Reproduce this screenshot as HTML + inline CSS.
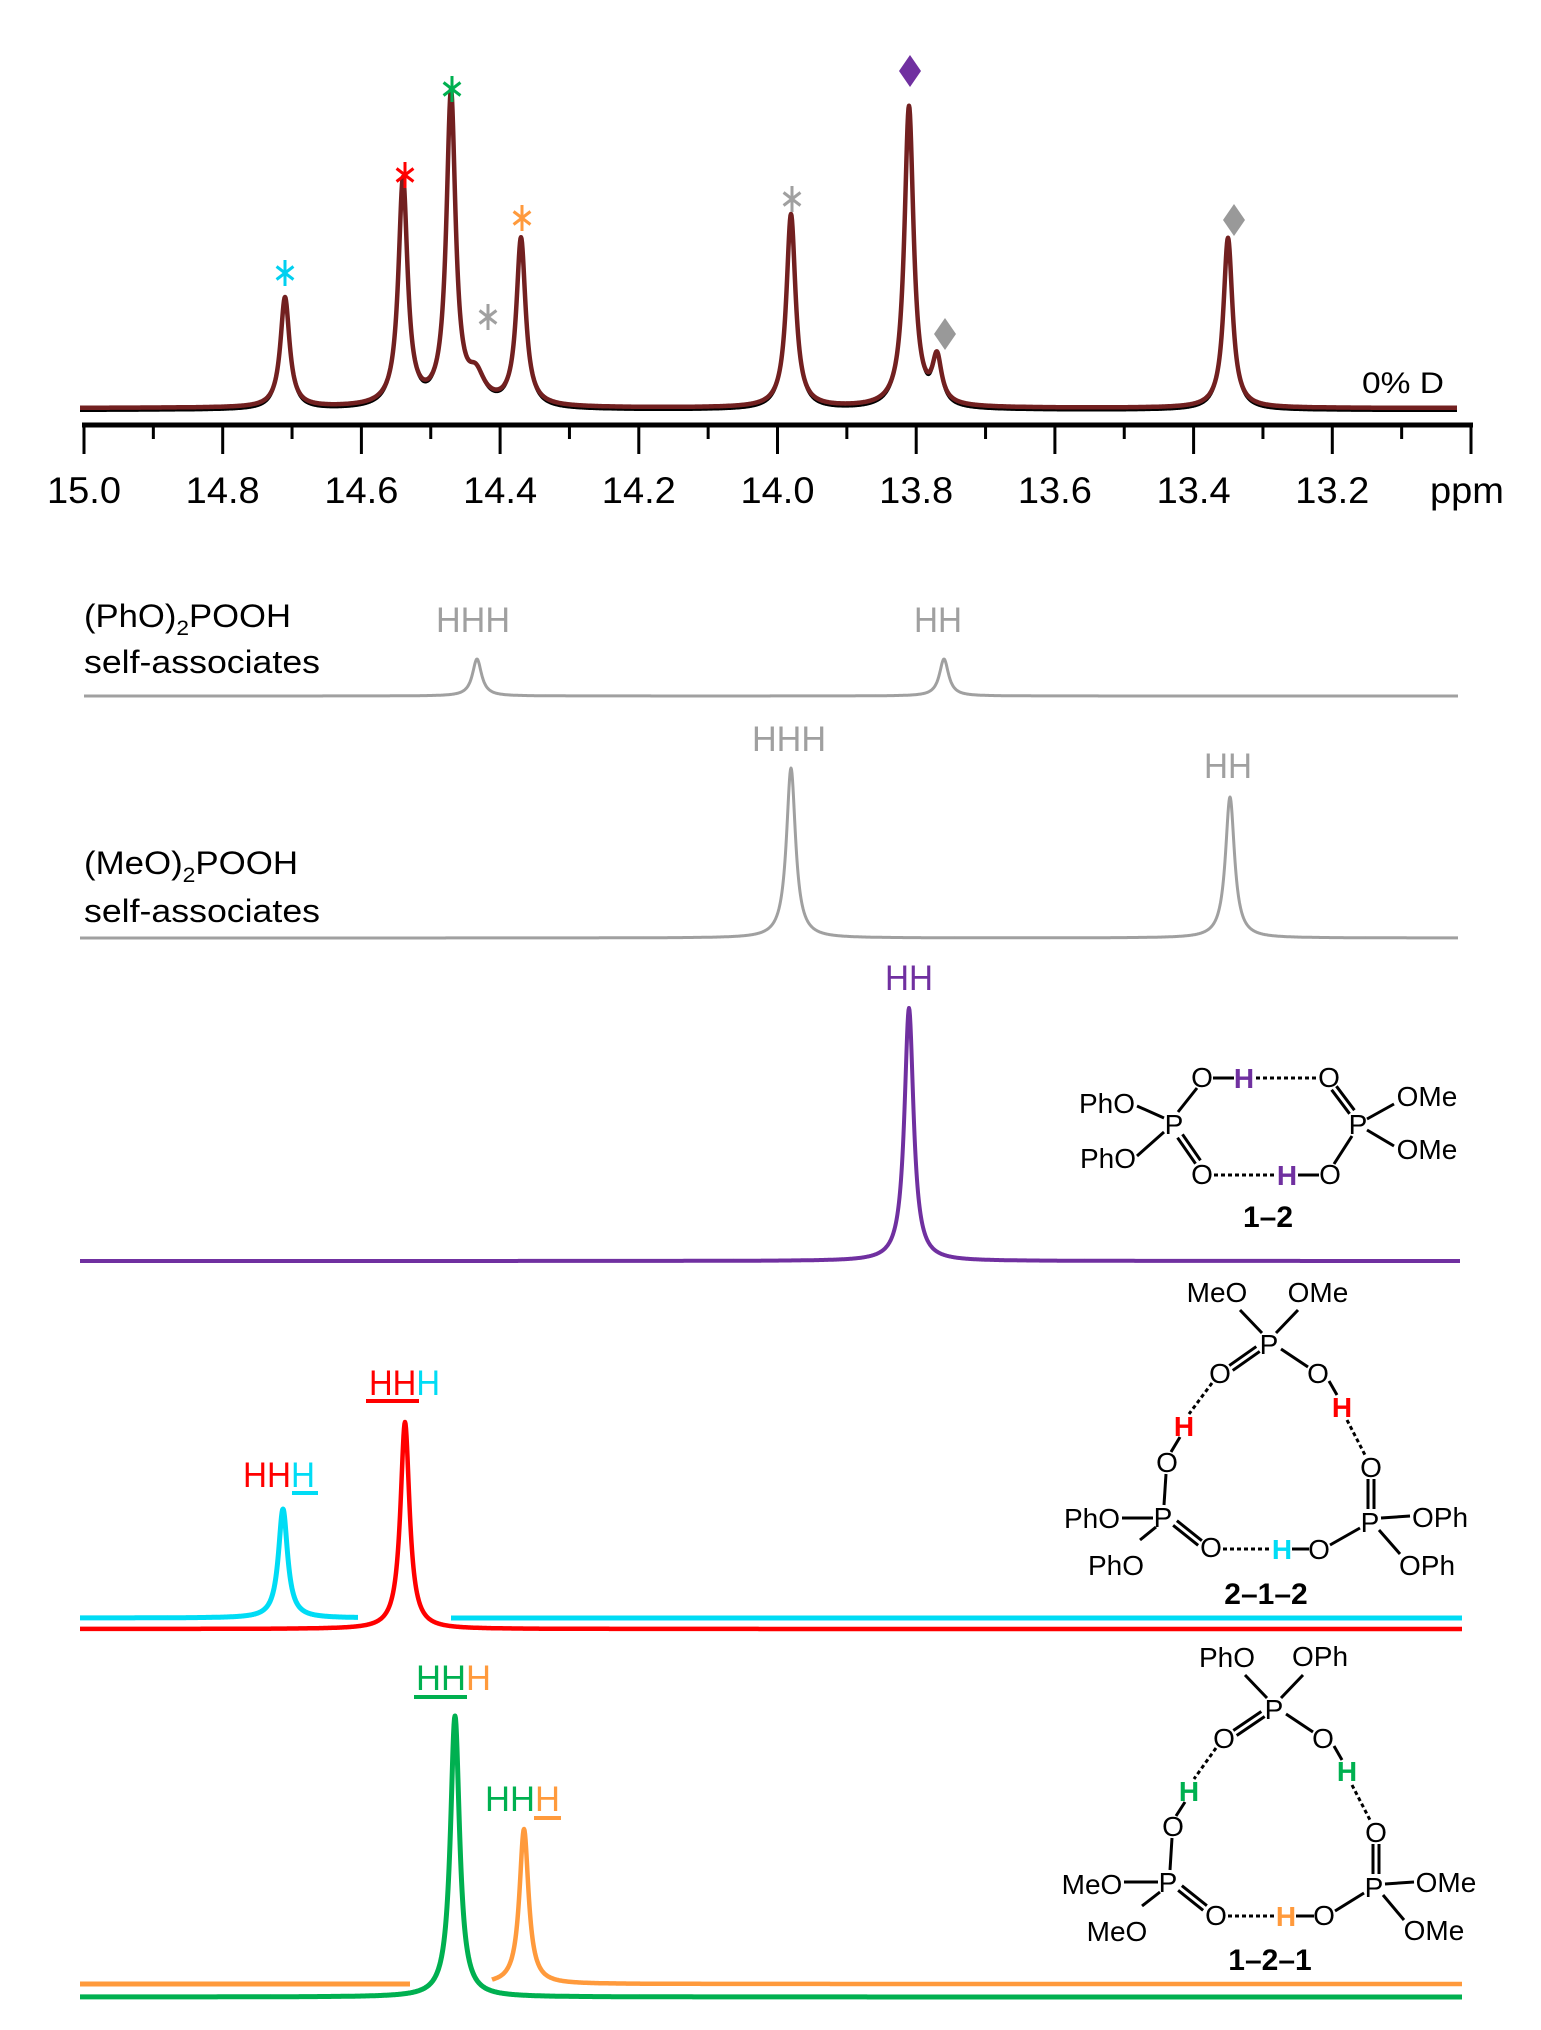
<!DOCTYPE html>
<html><head><meta charset="utf-8"><style>
html,body{margin:0;padding:0;background:#fff}
svg{display:block}
text{font-family:"Liberation Sans",sans-serif}
</style></head><body>
<svg id="s" width="1541" height="2030" viewBox="0 0 1541 2030" xmlns="http://www.w3.org/2000/svg">
<g id="g"></g>
<line x1="82" y1="425" x2="1473" y2="425" stroke="#000" stroke-width="5"/>
<g id="ticks" stroke="#000" stroke-width="3"></g>
<g font-size="37" fill="#000" text-anchor="middle" id="tl"></g>
<text x="1430" y="503" font-size="37" textLength="74" lengthAdjust="spacingAndGlyphs">ppm</text>
<text x="1362" y="393" font-size="30" textLength="82" lengthAdjust="spacingAndGlyphs">0% D</text>

<text x="84" y="627" font-size="32" textLength="207" lengthAdjust="spacingAndGlyphs">(PhO)<tspan font-size="21" dy="8">2</tspan><tspan dy="-8">POOH</tspan></text>
<text x="84" y="673" font-size="32" textLength="236" lengthAdjust="spacingAndGlyphs">self-associates</text>
<text x="84" y="874" font-size="32" textLength="214" lengthAdjust="spacingAndGlyphs">(MeO)<tspan font-size="21" dy="8">2</tspan><tspan dy="-8">POOH</tspan></text>
<text x="84" y="922" font-size="32" textLength="236" lengthAdjust="spacingAndGlyphs">self-associates</text>

<g font-size="35">
<text x="436" y="632" fill="#a0a0a0" textLength="74" lengthAdjust="spacingAndGlyphs">HHH</text>
<text x="914" y="632" fill="#a0a0a0" textLength="48" lengthAdjust="spacingAndGlyphs">HH</text>
<text x="752" y="751" fill="#a0a0a0" textLength="74" lengthAdjust="spacingAndGlyphs">HHH</text>
<text x="1204" y="778" fill="#a0a0a0" textLength="48" lengthAdjust="spacingAndGlyphs">HH</text>
<text x="885" y="990" fill="#7030a0" textLength="48" lengthAdjust="spacingAndGlyphs">HH</text>
<text x="369" y="1395" textLength="71" lengthAdjust="spacingAndGlyphs"><tspan fill="#ff0000">HH</tspan><tspan fill="#00dcf5">H</tspan></text>
<rect x="366" y="1399" width="53" height="4" fill="#ff0000"/>
<text x="243" y="1487" textLength="72" lengthAdjust="spacingAndGlyphs"><tspan fill="#ff0000">HH</tspan><tspan fill="#00dcf5">H</tspan></text>
<rect x="292" y="1491" width="26" height="4" fill="#00dcf5"/>
<text x="416" y="1690" textLength="75" lengthAdjust="spacingAndGlyphs"><tspan fill="#00b050">HH</tspan><tspan fill="#ff9a3c">H</tspan></text>
<rect x="414" y="1695" width="53" height="4" fill="#00b050"/>
<text x="485" y="1811" textLength="75" lengthAdjust="spacingAndGlyphs"><tspan fill="#00b050">HH</tspan><tspan fill="#ff9a3c">H</tspan></text>
<rect x="534" y="1816" width="27" height="4" fill="#ff9a3c"/>
</g>
<g id="st"></g>
</svg>
<script>
var NS="http://www.w3.org/2000/svg";
var G=document.getElementById('g');
function el(tag,attrs,parent,txt){var e=document.createElementNS(NS,tag);for(var k in attrs)e.setAttribute(k,attrs[k]);if(txt!==undefined)e.textContent=txt;(parent||G).appendChild(e);return e;}
function spec(x0,x1,base,peaks,color,w,gam){
  gam=gam||5.5;var d="";
  for(var x=x0;x<=x1;x+=0.5){var y=base;
    for(var i=0;i<peaks.length;i++){var g=peaks[i][2]||gam;var dx=x-peaks[i][0];y-=peaks[i][1]*g*g/(g*g+dx*dx);}
    d+=(x==x0?"M":"L")+x.toFixed(1)+" "+y.toFixed(1);}
  el('path',{d:d,fill:'none',stroke:color,'stroke-width':w,'stroke-linejoin':'round'});
}
spec(80,1457,411,[[285,113],[403,229],[451,314],[476,28,10],[521,170],[791,196],[909,303],[937,45],[1228,173]],"#000",2.5);
spec(80,1457,408,[[285,110],[403,226],[451,311],[476,26,10],[521,167],[791,193],[909,300],[937,45],[1228,170]],"#722020",4.5);
var T=document.getElementById('ticks'),TL=document.getElementById('tl');
for(var k=0;k<=20;k++){var x=84+k*69.35;el('line',{x1:x,y1:425,x2:x,y2:(k%2==0?454:439)},T);
 if(k%2==0&&k<20){el('text',{x:x,y:503,textLength:74,lengthAdjust:'spacingAndGlyphs'},TL,(15-k*0.1).toFixed(1));}}
function ast(x,y,c){var r=13;for(var a=0;a<3;a++){var t=Math.PI/2+a*Math.PI/3;el('line',{x1:x-r*Math.cos(t)*0.75,y1:y-r*Math.sin(t),x2:x+r*Math.cos(t)*0.75,y2:y+r*Math.sin(t),stroke:c,'stroke-width':3});}}
function dia(x,y,c){el('polygon',{points:(x)+","+(y-16)+" "+(x+11)+","+y+" "+x+","+(y+16)+" "+(x-11)+","+y,fill:c});}
ast(285,273,"#00d0f0");ast(405,175,"#ff0000");ast(452,89,"#00b050");ast(522,218,"#ff9a3c");ast(488,317,"#a0a0a0");ast(792,199,"#a0a0a0");
dia(910,71,"#7030a0");dia(945,334,"#999");dia(1234,220,"#999");
spec(84,1458,696,[[477,37]   ,[944,37]],"#a0a0a0",3);
spec(80,1458,938,[[791,170],[1230,141]],"#a0a0a0",3);
spec(80,1460,1261,[[909,253]],"#7030a0",4);
spec(80,358,1618,[[283,109]],"#00dcf5",5);
spec(451,1462,1618,[],"#00dcf5",5);
spec(80,1462,1629,[[405,207]],"#ff0000",4.5);
spec(80,410,1984,[],"#ff9a3c",5);
spec(492,1462,1984,[[524,155]],"#ff9a3c",4.5);
spec(80,1462,1997,[[455,281]],"#00b050",5);
var S=document.getElementById('st');
function at(t,x,y,c,fs,bold){el('text',{x:x,y:y+10,'font-size':fs||28,'text-anchor':'middle',fill:c||'#000','font-weight':(bold||t=="H")?'bold':'normal'},S,t);}
function bd(x1,y1,x2,y2,dash){var a={x1:x1,y1:y1,x2:x2,y2:y2,stroke:'#000','stroke-width':3};if(dash)a['stroke-dasharray']='4 3';el('line',a,S);}
function dbl(x1,y1,x2,y2){var dx=x2-x1,dy=y2-y1,L=Math.hypot(dx,dy),nx=-dy/L*3,ny=dx/L*3;bd(x1+nx,y1+ny,x2+nx,y2+ny);bd(x1-nx,y1-ny,x2-nx,y2-ny);}
at("PhO",1107,1103);at("PhO",1108,1158);at("P",1174,1124);at("O",1202,1077);at("H",1244,1078,"#7030a0");at("O",1329,1077);
at("P",1358,1124);at("OMe",1427,1096);at("OMe",1427,1149);at("O",1202,1174);at("H",1287,1175,"#7030a0");at("O",1330,1174);
at("1–2",1268,1217,"#000",30,true);
bd(1137,1106,1164,1118);bd(1137,1156,1164,1132);bd(1178,1112,1197,1088);bd(1213,1078,1234,1078);bd(1256,1078,1318,1078,true);
dbl(1180,1136,1198,1162);bd(1214,1175,1276,1175,true);bd(1298,1175,1319,1175);bd(1334,1164,1352,1136);dbl(1334,1088,1352,1112);
bd(1367,1119,1394,1104);bd(1367,1130,1394,1146);
at("MeO",1217,1292);at("OMe",1318,1292);at("P",1269,1344);at("O",1220,1373);at("O",1318,1373);at("H",1184,1426,"#ff0000");at("H",1342,1407,"#ff0000");
at("O",1167,1462);at("O",1371,1467);at("P",1163,1517);at("PhO",1092,1518);at("PhO",1116,1565);at("O",1211,1547);at("H",1282,1549,"#00dcf5");
at("O",1319,1549);at("P",1370,1522);at("OPh",1440,1517);at("OPh",1427,1565);at("2–1–2",1266,1594,"#000",30,true);
bd(1240,1310,1262,1333);bd(1298,1310,1276,1333);dbl(1231,1368,1258,1349);bd(1281,1349,1308,1367);bd(1212,1383,1189,1414,true);bd(1329,1381,1337,1395);
bd(1180,1437,1171,1452);bd(1347,1420,1365,1455,true);bd(1166,1474,1164,1505);dbl(1371,1479,1371,1509);bd(1122,1518,1153,1518);bd(1140,1540,1156,1527);
dbl(1175,1523,1200,1543);bd(1223,1549,1272,1549,true);bd(1292,1549,1309,1549);bd(1330,1545,1360,1528);bd(1381,1518,1410,1516);bd(1379,1530,1400,1554);
at("PhO",1227,1657);at("OPh",1320,1656);at("P",1274,1709);at("O",1224,1738);at("O",1323,1738);at("H",1189,1791,"#00b050");at("H",1347,1771,"#00b050");
at("O",1173,1826);at("O",1376,1832);at("P",1168,1882);at("MeO",1092,1884);at("MeO",1117,1931);at("O",1216,1915);at("H",1286,1916,"#ff9a3c");
at("O",1324,1915);at("P",1374,1887);at("OMe",1446,1882);at("OMe",1434,1930);at("1–2–1",1270,1960,"#000",30,true);
bd(1245,1675,1267,1698);bd(1303,1675,1281,1698);dbl(1235,1733,1263,1714);bd(1286,1714,1313,1732);bd(1216,1748,1194,1779,true);bd(1334,1746,1342,1760);
bd(1185,1802,1176,1816);bd(1352,1785,1370,1820,true);bd(1172,1838,1170,1870);dbl(1376,1844,1376,1874);bd(1124,1882,1158,1882);bd(1142,1906,1160,1892);
dbl(1180,1888,1205,1908);bd(1228,1916,1275,1916,true);bd(1296,1916,1314,1916);bd(1335,1911,1364,1893);bd(1385,1884,1414,1882);bd(1383,1895,1404,1920);
</script>
</body></html>
